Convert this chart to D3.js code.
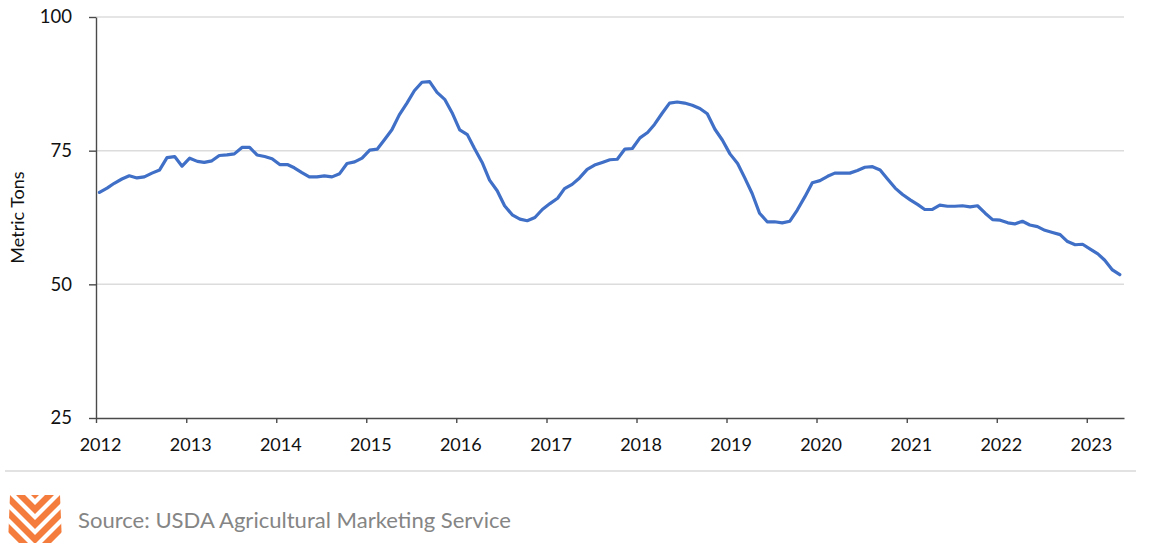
<!DOCTYPE html>
<html>
<head>
<meta charset="utf-8">
<script src="https://cdn.jsdelivr.net/npm/d3@7/dist/d3.min.js"></script>
<style>
  html, body { margin: 0; padding: 0; background: #fff; }
  svg { display: block; }
  .axis text { font-family: Lato, "Open Sans", sans-serif; fill: #111; }
</style>
</head>
<body>
<main></main>
<script>
// monthly values, Jan 2012 .. May 2023 (one row per year)
const startYear = 2012;
const monthlyTons = [
  67.2, 68.0, 68.9, 69.7, 70.3, 69.9, 70.1, 70.8, 71.4, 73.7, 73.9, 72.1, // 2012
  73.6, 73.0, 72.8, 73.1, 74.1, 74.2, 74.4, 75.6, 75.6, 74.2, 73.9, 73.5, // 2013
  72.4, 72.4, 71.8, 70.9, 70.1, 70.1, 70.3, 70.1, 70.7, 72.6, 72.9, 73.6, // 2014
  75.1, 75.3, 77.0, 78.9, 81.7, 83.9, 86.2, 87.8, 87.9, 85.9, 84.6, 82.1, // 2015
  78.9, 78.0, 75.4, 72.8, 69.5, 67.5, 64.7, 63.0, 62.2, 61.9, 62.5, 64.0, // 2016
  65.1, 66.1, 67.9, 68.7, 69.9, 71.5, 72.3, 72.8, 73.3, 73.4, 75.3, 75.4, // 2017
  77.4, 78.4, 79.9, 82.0, 83.9, 84.1, 83.9, 83.5, 82.9, 81.9, 79.0, 77.0, // 2018
  74.4, 72.6, 70.0, 67.0, 63.3, 61.7, 61.7, 61.5, 61.8, 63.9, 66.4, 69.0, // 2019
  69.4, 70.2, 70.8, 70.8, 70.8, 71.3, 71.9, 72.0, 71.4, 69.7, 68.0, 66.8, // 2020
  65.8, 64.9, 64.0, 64.0, 64.8, 64.6, 64.6, 64.7, 64.5, 64.7, 63.3, 62.1, // 2021
  62.0, 61.5, 61.3, 61.8, 61.1, 60.8, 60.1, 59.7, 59.3, 58.0, 57.4, 57.5, // 2022
  56.6, 55.7, 54.5, 52.7, 51.8                                              // 2023
];
const yearTicks = [2012, 2013, 2014, 2015, 2016, 2017, 2018, 2019, 2020, 2021, 2022, 2023];
const valueTicks = [25, 50, 75, 100];
const yTitle = "Metric Tons";
const sourceNote = "Source: USDA Agricultural Marketing Service";

const w = 1149;
const h = 548;
const plotLeft = 96, plotRight = 1124, plotTop = 17, plotBottom = 418;

const data = monthlyTons.map((v, i) => ({
  date: new Date(startYear, i, 15), // plotted mid-month
  value: v
}));

const scaleX = d3.scaleTime()
  .domain([new Date(startYear, 0, 1), new Date(startYear, monthlyTons.length, 1)])
  .range([plotLeft, plotRight]);

const scaleY = d3.scaleLinear()
  .domain([25, 100])
  .range([plotBottom, plotTop]);

const svg = d3.select("main")
  .append("svg")
  .attr("width", w)
  .attr("height", h);

svg.append("rect").attr("width", w).attr("height", h).attr("fill", "#fff");

// gridlines
svg.append("g")
  .selectAll("line")
  .data(valueTicks.filter(d => d > 25))
  .enter()
  .append("line")
  .attr("x1", plotLeft)
  .attr("x2", plotRight)
  .attr("y1", d => scaleY(d))
  .attr("y2", d => scaleY(d))
  .attr("stroke", "#dcdcdc")
  .attr("stroke-width", 1.5);

// axes
const axisX = d3.axisBottom(scaleX)
  .tickValues(yearTicks.map(y => new Date(y, 0, 1)))
  .tickFormat(d3.timeFormat("%Y"))
  .tickSizeInner(5)
  .tickSizeOuter(0)
  .tickPadding(15);

const gx = svg.append("g")
  .attr("class", "axis")
  .attr("transform", `translate(0, ${plotBottom})`)
  .call(axisX);
gx.selectAll("text").attr("font-size", 18).attr("dx", 4);

const axisY = d3.axisLeft(scaleY)
  .tickValues(valueTicks)
  .tickSizeInner(7)
  .tickSizeOuter(0)
  .tickPadding(17);

const gy = svg.append("g")
  .attr("class", "axis")
  .attr("transform", `translate(${plotLeft}, 0)`)
  .call(axisY);
gy.selectAll("text").attr("font-size", 18.5);

svg.selectAll(".axis path, .axis line")
  .attr("stroke", "#4a4a4a")
  .attr("stroke-width", 1.4);

// y title
svg.append("text")
  .attr("transform", `translate(24, ${(plotTop + plotBottom) / 2}) rotate(-90)`)
  .attr("text-anchor", "middle")
  .attr("font-family", "Lato, 'Open Sans', sans-serif")
  .attr("font-size", 18)
  .attr("fill", "#111")
  .text(yTitle);

// the series
const line = d3.line()
  .x(d => scaleX(d.date))
  .y(d => scaleY(d.value));

svg.append("path")
  .datum(data)
  .attr("d", line)
  .attr("fill", "none")
  .attr("stroke", "#3f6fc6")
  .attr("stroke-width", 3.2)
  .attr("stroke-linejoin", "round")
  .attr("stroke-linecap", "round");

// footer separator
svg.append("line")
  .attr("x1", 5).attr("x2", 1136)
  .attr("y1", 471).attr("y2", 471)
  .attr("stroke", "#d9d9d9")
  .attr("stroke-width", 1.5);

// logo: nested orange chevrons clipped to a small trapezoid
const defs = svg.append("defs");
defs.append("clipPath").attr("id", "logoClip")
  .append("polygon")
  .attr("points", "10,495 60,495 62,543 8,543");

const logo = svg.append("g").attr("clip-path", "url(#logoClip)");
const cx = 35, span = 30, band = 9;
[490, 505, 520, 535, 550].forEach(c => {
  logo.append("polygon")
    .attr("points", [
      [cx - span, c - span], [cx, c], [cx + span, c - span],
      [cx + span, c - span + band], [cx, c + band], [cx - span, c - span + band]
    ].map(p => p.join(",")).join(" "))
    .attr("fill", "#f47c3c");
});

// source note
svg.append("text")
  .attr("x", 78)
  .attr("y", 528)
  .attr("font-family", "Lato, 'Open Sans', sans-serif")
  .attr("font-size", 21.5)
  .attr("textLength", 433)
  .attr("lengthAdjust", "spacingAndGlyphs")
  .attr("fill", "#858585")
  .text(sourceNote);
</script>
</body>
</html>
